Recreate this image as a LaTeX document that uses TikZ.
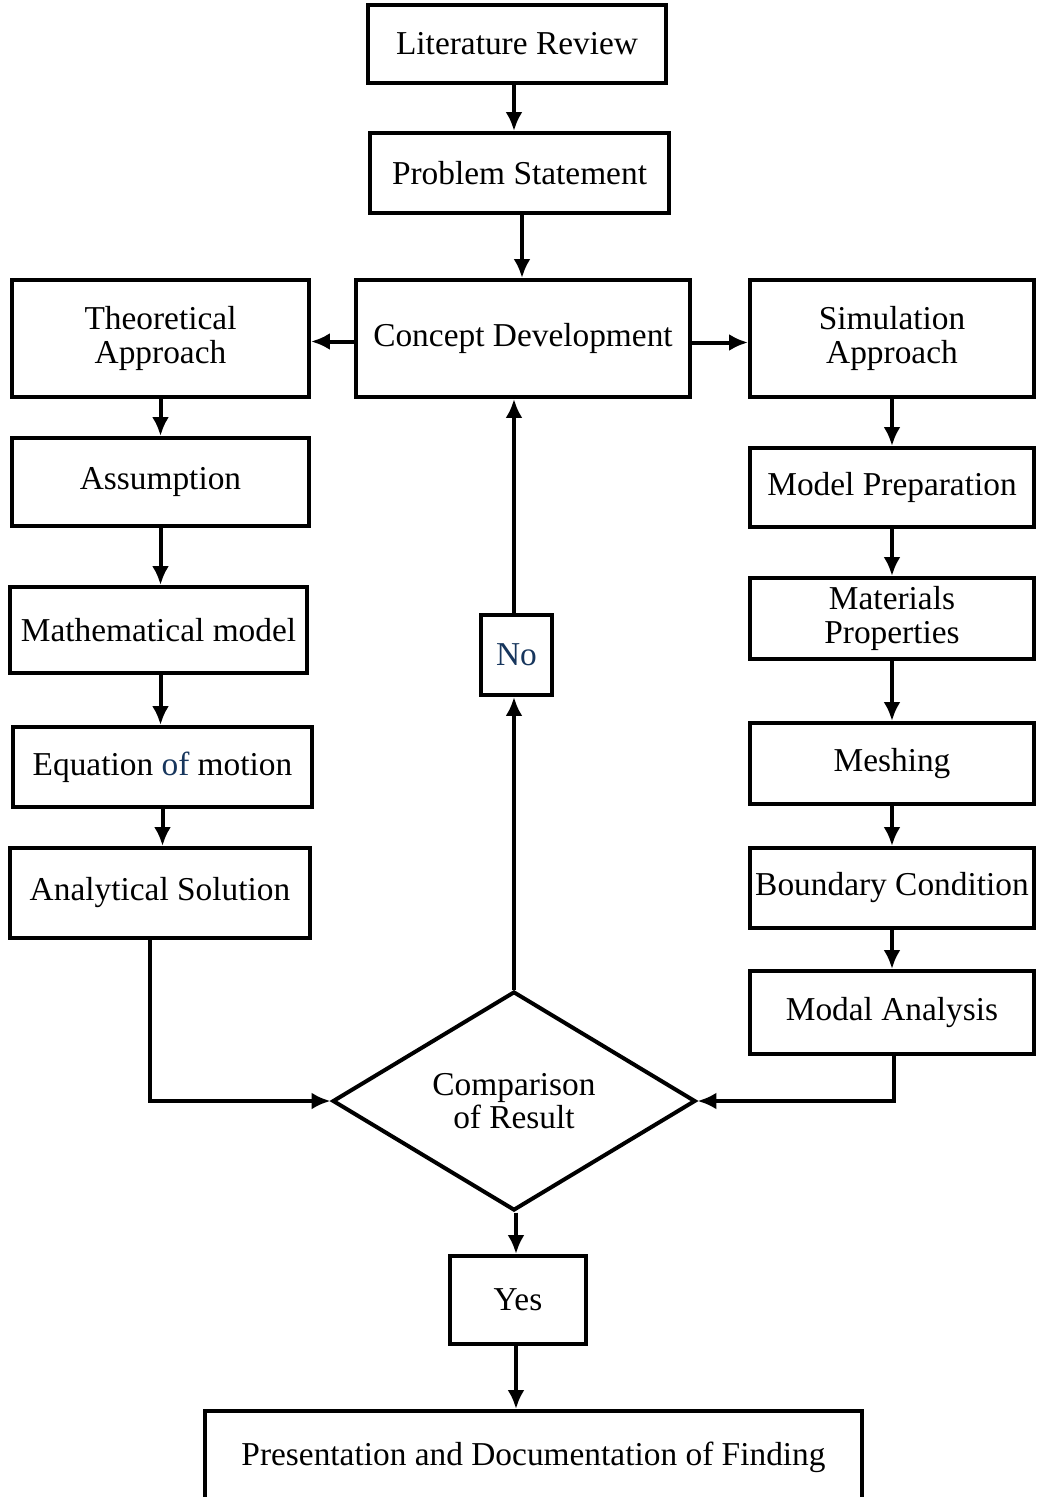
\documentclass[tikz,border=0pt]{standalone}
\usepackage{fontspec}
\setmainfont{Liberation Serif}
\usetikzlibrary{arrows.meta,shapes.geometric}
\definecolor{navytext}{RGB}{23,54,93}

\begin{document}
\begin{tikzpicture}[x=0.02cm, y=-0.02cm,
  box/.style={draw, line width=0.08cm, align=center, inner sep=0pt,
    font=\fontsize{19}{19}\selectfont},
  flow/.style={arrows={-{Latex[length=0.38cm,width=0.34cm]}}, line width=0.08cm}]
\useasboundingbox (0,0) rectangle (1036,1497);
\node[box, minimum width=5.96cm, minimum height=1.56cm] at (517,44) (lit) {Literature Review};
\node[box, minimum width=5.98cm, minimum height=1.6cm] at (519.5,173) (prob) {Problem Statement};
\node[box, minimum width=6.68cm, minimum height=2.34cm] at (523,338.5) (concept) {Concept Development};
\node[box, minimum width=5.94cm, minimum height=2.34cm] at (160.5,338.5) (theo) {Theoretical\\Approach};
\node[box, minimum width=5.68cm, minimum height=2.34cm] at (892,338.5) (sim) {Simulation\\Approach};
%left branch
\node[box, minimum width=5.94cm, minimum height=1.76cm] at (160.5,482) (assum) {Assumption};
\node[box, minimum width=5.94cm, minimum height=1.72cm] at (158.5,630) (math) {Mathematical model};
\node[box, minimum width=5.98cm, minimum height=1.6cm] at (162.5,767) (eqn) {Equation \textcolor{navytext}{of} motion};
\node[box, minimum width=6cm, minimum height=1.8cm] at (160,893) (anal) {Analytical Solution};
%right branch
\node[box, minimum width=5.68cm, minimum height=1.58cm] at (892,487.5) (prep) {Model Preparation};
\node[box, minimum width=5.68cm, minimum height=1.62cm] at (892,618.5) (matl) {Materials\\Properties};
\node[box, minimum width=5.68cm, minimum height=1.62cm] at (892,763.5) (mesh) {Meshing};
\node[box, minimum width=5.68cm, minimum height=1.6cm] at (892,888) (bc) {Boundary Condition};
\node[box, minimum width=5.68cm, minimum height=1.66cm] at (892,1012.5) (modal) {Modal Analysis};
%decision
\node[box, diamond, minimum width=7.26cm, minimum height=4.3cm] at (514,1101) (cmp) {Comparison\\of Result};
\node[box, minimum width=1.42cm, minimum height=1.6cm, text=navytext] at (516.5,655) (no) {No};
\node[box, minimum width=2.72cm, minimum height=1.76cm] at (518,1300) (yes) {Yes};
\node[box, minimum width=13.14cm, minimum height=1.84cm] at (533.5,1457) (pres) {Presentation and Documentation of Finding};

\draw[flow] ([xshift=-0.06cm]lit.south) -- ([xshift=-0.06cm]lit.south |- prob.north);
\draw[flow] ([xshift=0.05cm]prob.south) -- ([xshift=0.05cm]prob.south |- concept.north);
\draw[flow] ([yshift=-0.06cm]concept.west) -- ([yshift=-0.06cm]concept.west -| theo.east);
\draw[flow] ([yshift=-0.08cm]concept.east) -- ([yshift=-0.08cm]concept.east -| sim.west);
\draw[flow] (theo.south) -- (theo.south |- assum.north);
\draw[flow] (assum.south) -- (assum.south |- math.north);
\draw[flow] ([xshift=0.04cm]math.south) -- ([xshift=0.04cm]math.south |- eqn.north);
\draw[flow] (eqn.south) -- (eqn.south |- anal.north);
\draw[flow] ([xshift=-0.2cm]anal.south) |- (cmp.west);
\foreach \a/\b in {sim/prep, prep/matl, matl/mesh, mesh/bc, bc/modal}
  \draw[flow] (\a.south) -- (\a.south |- \b.north);
\draw[flow] ([xshift=0.04cm]modal.south) |- (cmp.east);
\draw[flow] (cmp.north) -- (cmp.north |- no.south);
\draw[flow] ([xshift=-0.05cm]no.north) -- ([xshift=-0.05cm]no.north |- concept.south);
\draw[flow] ([xshift=0.04cm]cmp.south) -- ([xshift=0.04cm]cmp.south |- yes.north);
\draw[flow] ([xshift=-0.04cm]yes.south) -- ([xshift=-0.04cm]yes.south |- pres.north);
\end{tikzpicture}
\end{document}
